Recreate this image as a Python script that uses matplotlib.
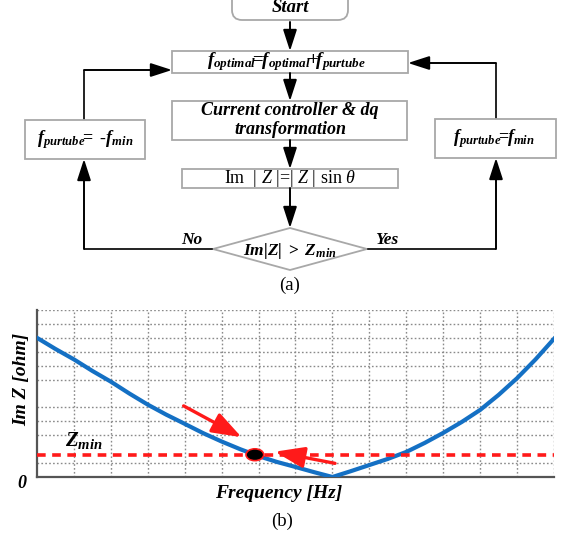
import matplotlib
matplotlib.use("Agg")
import matplotlib.pyplot as plt
from matplotlib.patches import Rectangle, FancyBboxPatch, Polygon, Ellipse

plt.rcParams['mathtext.fontset'] = 'custom'
plt.rcParams['mathtext.rm'] = 'Liberation Serif'
plt.rcParams['mathtext.it'] = 'Liberation Serif:italic'
plt.rcParams['mathtext.bf'] = 'Liberation Serif:bold'
plt.rcParams['mathtext.bfit'] = 'Liberation Serif:bold:italic'
plt.rcParams['font.family'] = ['Liberation Serif', 'DejaVu Serif']

# ---- data for panel (b) ----
freq = [0, 0.5, 1, 1.5, 2, 2.5, 3, 3.5, 4, 4.5, 5, 5.5, 6, 6.5, 7, 7.5, 8,
        8.5, 9, 9.5, 10, 10.5, 11, 11.5, 12, 12.5, 13, 13.5, 14]
im_z = [10.0, 9.2, 8.45, 7.62, 6.85, 6.0, 5.2, 4.48, 3.82, 3.15, 2.55, 2.0,
        1.5, 1.08, 0.72, 0.35, 0.0,
        0.42, 0.86, 1.3, 1.8, 2.45, 3.17, 3.95, 4.82, 5.9, 7.1, 8.45, 9.93]
z_min = 1.6
op_freq = 5.9
arrow_down = [(3.97, 5.11), (5.54, 2.86)]
arrow_left = [(8.07, 0.98), (6.44, 1.82)]
x_grid = [1, 2, 3, 4, 5, 6, 7, 8, 9, 10, 11, 12, 13]
y_grid = [1, 3, 4, 5, 7, 8, 9, 10, 11]

# ---- flowchart labels ----
txt_start = "Start"
txt_update = (r"$\mathbfit{f}_{\mathbfit{optimal}}\!\!\mathbf{=}\!\!\mathbfit{f}_{\mathbfit{optimal}}"
              r"\!\mathbf{+}\!\mathbfit{f}_{\mathbfit{purtube}}$")
txt_ctrl = "Current controller & dq\ntransformation"
txt_imz = r"Im  | $Z$ |=| $Z$ | sin $\theta$"
txt_cond = r"$\mathbfit{Im|Z|}\ \mathbf{>}\ \mathbfit{Z}_{\mathbfit{min}}$"
txt_neg = r"$\mathbfit{f}_{\mathbfit{purtube}}\!\!\mathbf{=}\ \mathbf{\text{-}}\mathbfit{f}_{\mathbfit{min}}$"
txt_pos = r"$\mathbfit{f}_{\mathbfit{purtube}}\!\!\mathbf{=}\!\!\mathbfit{f}_{\mathbfit{min}}$"

W, H = 561, 537
fig = plt.figure(figsize=(W / 100, H / 100), dpi=100)
fig.patch.set_facecolor('white')

# full-figure canvas in pixel units for the flowchart
fc = fig.add_axes([0, 0, 1, 1])
fc.set_xlim(0, W)
fc.set_ylim(H, 0)
fc.axis('off')

box_ec = '#a8a8a8'
bold_it = dict(fontweight='bold', fontstyle='italic')


def box(x0, y0, x1, y1):
    fc.add_patch(Rectangle((x0, y0), x1 - x0, y1 - y0, facecolor='white',
                           edgecolor=box_ec, lw=1.3, zorder=2))


def arrow(p0, p1):
    fc.annotate('', xy=p1, xytext=p0,
                arrowprops=dict(arrowstyle='-|>,head_length=1.3,head_width=0.42',
                                mutation_scale=10, color='black', lw=1.4,
                                shrinkA=0, shrinkB=0), zorder=3)


def line(xs, ys):
    fc.plot(xs, ys, color='#222222', lw=1.4, zorder=1, solid_capstyle='butt')


# start terminator
fc.add_patch(FancyBboxPatch((232, -20), 116, 40, boxstyle='round,pad=0,rounding_size=10',
                            facecolor='white', edgecolor=box_ec, lw=1.3, zorder=2))
fc.text(290, 7, txt_start, ha='center', va='center', fontsize=13.5, **bold_it, zorder=4)
arrow((290, 22), (290, 51))

# update box
box(172, 51, 408, 73)
fc.text(287, 62, txt_update, ha='center', va='center', fontsize=13.5, zorder=4)
arrow((290, 73), (290, 101))

# controller box
box(172, 101, 407, 140)
fc.text(290, 120, txt_ctrl, ha='center', va='center', fontsize=13,
        linespacing=1.1, **bold_it, zorder=4)
arrow((290, 140), (290, 169))

# impedance box
box(182, 169, 398, 188)
fc.text(290, 178.5, txt_imz, ha='center', va='center', fontsize=13, zorder=4)
arrow((290, 188), (290, 228))

# decision diamond
fc.add_patch(Polygon([(290, 228), (367, 249), (290, 270), (213, 249)], closed=True,
                     facecolor='white', edgecolor=box_ec, lw=1.3, zorder=2))
fc.text(290, 251, txt_cond, ha='center', va='center', fontsize=12.5, zorder=4)
fc.text(192, 240, "No", ha='center', va='center', fontsize=12.5, **bold_it)
fc.text(387, 240, "Yes", ha='center', va='center', fontsize=12.5, **bold_it)

# left branch
line([213, 84], [249, 249])
arrow((84, 249), (84, 159))
box(25, 120, 145, 159)
fc.text(85, 140, txt_neg, ha='center', va='center', fontsize=13, zorder=4)
line([84, 84], [120, 70])
arrow((84, 70), (172, 70))

# right branch
line([367, 496], [249, 249])
arrow((496, 249), (496, 158))
box(435, 119, 556, 158)
fc.text(494, 139, txt_pos, ha='center', va='center', fontsize=13, zorder=4)
line([496, 496], [119, 63])
arrow((496, 63), (408, 63))

fc.text(290, 285, "(a)", ha='center', va='center', fontsize=13.5)

# ---- panel (b) ----
left, right, top, bottom = 37, 554, 310, 477
ax = fig.add_axes([left / W, 1 - bottom / H, (right - left) / W, (bottom - top) / H])
ax.set_xlim(0, 14)
ax.set_ylim(0, 12)
ax.set_xticks([])
ax.set_yticks([])
for s in ('top', 'right'):
    ax.spines[s].set_visible(False)
for s in ('left', 'bottom'):
    ax.spines[s].set_color('#555555')
    ax.spines[s].set_linewidth(1.6)

grid_kw = dict(color='#8a8a8a', lw=1.0, linestyle=(0, (1.2, 1.6)), zorder=1)
for gx in x_grid:
    ax.axvline(gx, **grid_kw)
for gy in y_grid:
    ax.axhline(gy, **grid_kw)
ax.axhline(12, **grid_kw)
ax.axvline(14, **grid_kw)

ax.plot(freq, im_z, color='#1470c4', lw=3.0, zorder=3, solid_joinstyle='round')
ax.axhline(z_min, color='#ff1a1a', lw=2.6, dashes=(2.4, 1.8), zorder=4)

for (x0, y0), (x1, y1) in (arrow_down, arrow_left):
    ax.annotate('', xy=(x1, y1), xytext=(x0, y0),
                arrowprops=dict(arrowstyle='-|>,head_length=0.9,head_width=0.32',
                                mutation_scale=20, color='#ff1a1a', lw=2.4,
                                shrinkA=0, shrinkB=0), zorder=5)

ax.add_patch(Ellipse((op_freq, z_min), 0.48, 0.85, facecolor='black',
                     edgecolor='#ff1a1a', lw=1.2, zorder=6))

ax.text(0.75, 2.6, r"$\mathbfit{Z}_{\mathbfit{min}}$", fontsize=15,
        ha='left', va='center')

fc.text(22, 379, "Im Z [ohm]", rotation=90, ha='center', va='center',
        fontsize=14, **bold_it)
fc.text(22, 483, "0", ha='center', va='center', fontsize=13, **bold_it)
fc.text(279, 494, "Frequency [Hz]", ha='center', va='center', fontsize=14, **bold_it)
fc.text(282, 521, "(b)", ha='center', va='center', fontsize=13.5)

fig.savefig('out.png', dpi=100, facecolor='white')
